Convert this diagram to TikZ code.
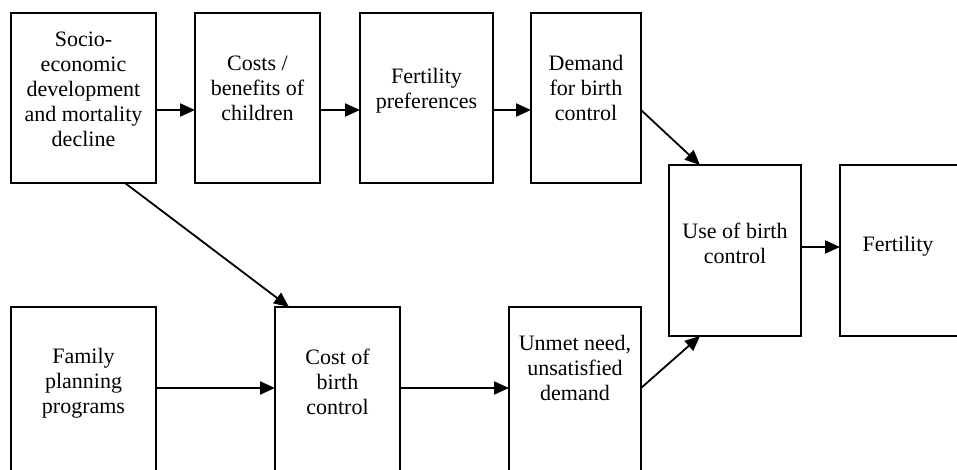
\documentclass[tikz,border=0pt]{standalone}
\usepackage{fontspec}
\setmainfont{Liberation Serif}
\usetikzlibrary{arrows.meta}
\begin{document}
\begin{tikzpicture}[x=1pt,y=-1pt,
  box/.style={draw, line width=2pt, outer sep=0pt, inner sep=0pt, anchor=north west},
  txt/.style={align=center, font=\fontsize{22}{25}\selectfont, inner sep=0pt},
  arr/.style={line width=2pt, -{Triangle[length=15pt,width=13pt]}},
  diag/.style={line width=1.8pt, -{Triangle[length=15pt,width=13pt]}}]
\fill[white] (0,0) rectangle (957,470);
\useasboundingbox (0,0) rectangle (957,470);
\clip (0,0) rectangle (957,470);
% boxes
\node[box, minimum width=145pt, minimum height=170pt] (A) at (11,13) {};
\node[box, minimum width=125pt, minimum height=170pt] (B) at (195,13) {};
\node[box, minimum width=133pt, minimum height=170pt] (C) at (360,13) {};
\node[box, minimum width=110pt, minimum height=170pt] (D) at (531,13) {};
\node[box, minimum width=132pt, minimum height=171pt] (E) at (669,165) {};
\node[box, minimum width=130pt, minimum height=171pt] (F) at (840,165) {};
\node[box, minimum width=145pt, minimum height=170pt] (G) at (11,307) {};
\node[box, minimum width=125pt, minimum height=170pt] (H) at (275,307) {};
\node[box, minimum width=132pt, minimum height=170pt] (I) at (509,307) {};
% texts
\node[txt] (tA) at (83.5,89) {Socio-\\economic\\development\\and mortality\\decline};
\node[txt] (tB) at (257.5,88) {Costs /\\benefits of\\children};
\node[txt] (tC) at (426.5,91) {Fertility\\preferences};
\node[txt] (tD) at (586,88) {Demand\\for birth\\control};
\node[txt] (tE) at (735,243) {Use of birth\\control};
\node[txt] (tF) at (898,246) {Fertility};
\node[txt] (tG) at (83.5,383) {Family\\planning\\programs};
\node[txt] (tH) at (337.5,382) {Cost of\\birth\\control};
\node[txt] (tI) at (575,368) {Unmet need,\\unsatisfied\\demand};
% connectors
\draw[arr] ([yshift=-12pt]A.east) -- ([yshift=-12pt]B.west);
\draw[arr] ([yshift=-12pt]B.east) -- ([yshift=-12pt]C.west);
\draw[arr] ([yshift=-12pt]C.east) -- ([yshift=-12pt]D.west);
\draw[diag] ([yshift=-12pt]D.east) -- ([xshift=-35pt]E.north);
\draw[diag] ([yshift=4pt]I.east) -- ([xshift=-35pt]E.south);
\draw[diag] ([xshift=41.5pt]A.south) -- ([xshift=-48.5pt]H.north);
\draw[arr] ([yshift=4pt]G.east) -- ([yshift=4pt]H.west);
\draw[arr] ([yshift=4pt]H.east) -- ([yshift=4pt]I.west);
\draw[arr] ([yshift=3.5pt]E.east) -- ([yshift=3.5pt]F.west);
\end{tikzpicture}
\end{document}
